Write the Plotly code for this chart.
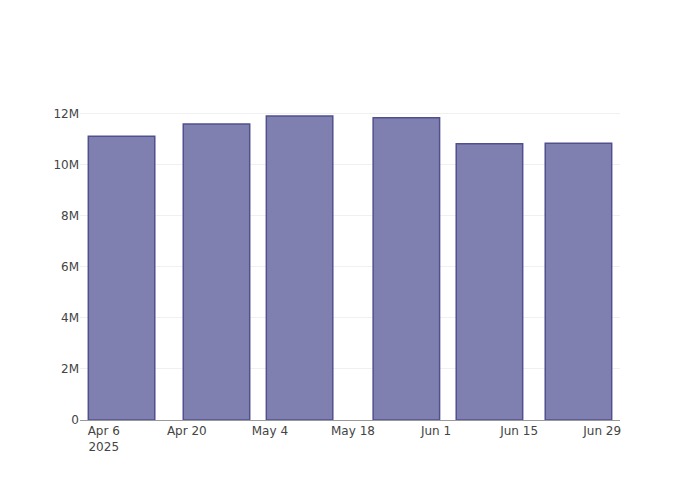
import plotly.graph_objects as go

# weekly-ish totals
dates = ['2025-04-09', '2025-04-25', '2025-05-09', '2025-05-27', '2025-06-10', '2025-06-25']
values = [11.13e6, 11.61e6, 11.92e6, 11.85e6, 10.83e6, 10.85e6]

fig = go.Figure()
fig.add_trace(go.Bar(
    x=dates, y=values,
    marker=dict(color='#8080b0', line=dict(color='#50508f', width=1.5)),
    showlegend=False,
))

# page body has an 8px margin, so shift the plot area back by 8px
fig.update_layout(
    width=700, height=500,
    template='none',
    plot_bgcolor='white', paper_bgcolor='white',
    font=dict(family='DejaVu Sans', size=12, color='#444'),
    margin=dict(l=72, r=88, t=92, b=88),
)
fig.update_xaxes(showgrid=False, showline=True, linecolor='#999', linewidth=1,
                 ticks='', zeroline=False, dtick=14 * 86400000, tick0='2025-04-06')
fig.update_yaxes(showgrid=True, gridcolor='#f0f0f0', zeroline=False,
                 ticks='', dtick=2e6)

fig.write_html("out.html")
